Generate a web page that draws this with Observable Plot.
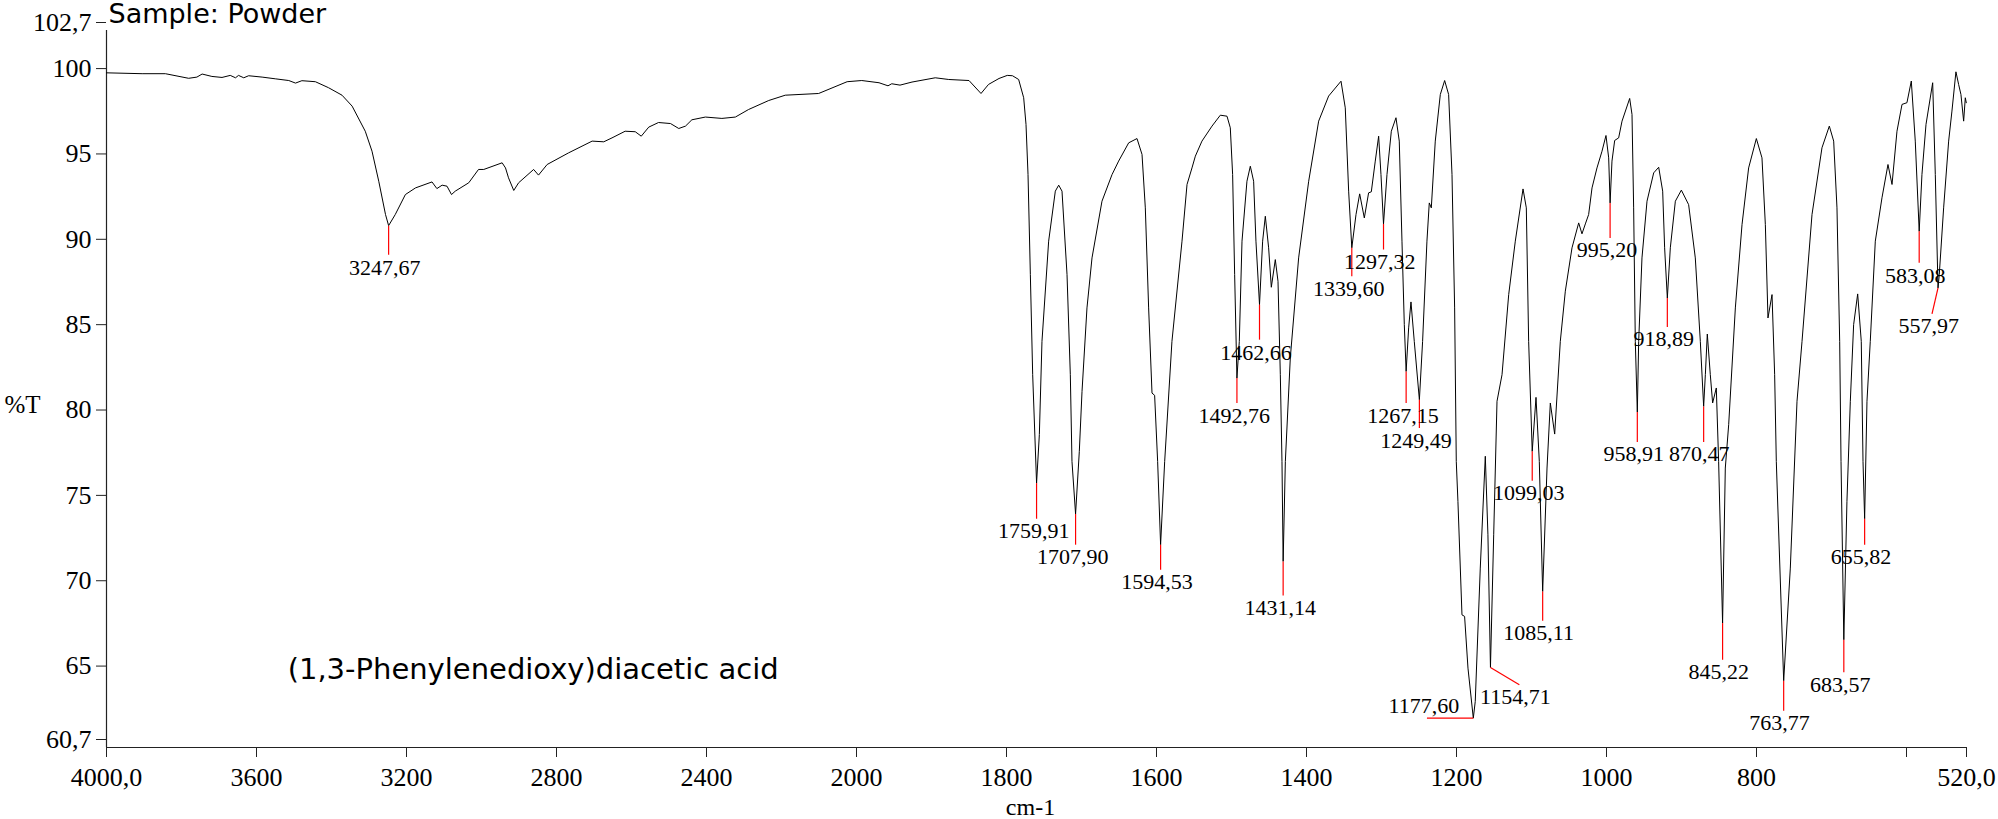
<!DOCTYPE html>
<html>
<head>
<meta charset="utf-8">
<script src="https://cdn.jsdelivr.net/npm/d3@7"></script>
<script src="https://cdn.jsdelivr.net/npm/@observablehq/plot@0.6"></script>
<style>
  html, body { margin: 0; padding: 0; background: #fff; }
  #chart svg { display: block; }
  #chart svg g[aria-label="x-axis tick label"] text,
  #chart svg g[aria-label="y-axis tick label"] text { font-family: "Liberation Serif", "Times New Roman", serif; }
</style>
</head>
<body>
<div id="chart"></div>
<script>
// ---- Data ----
const wavenumber = [
  4000, 3905, 3843, 3781, 3759, 3745, 3719, 3692, 3670, 3656, 3648, 3634, 3621, 3585, 3550, 3514, 3496, 3479, 3443, 3408,
  3372, 3345, 3310, 3292, 3274, 3256, 3247.67, 3230, 3203, 3176, 3132, 3119, 3105, 3092, 3080, 3070, 3034, 3008, 2994, 2945,
  2936, 2928, 2914, 2901, 2861, 2848, 2825, 2768, 2705, 2674, 2652, 2617, 2590, 2574, 2554, 2528, 2496, 2474, 2456, 2439,
  2403, 2359, 2323, 2288, 2234, 2190, 2101, 2025, 1993, 1970, 1958, 1953, 1942, 1926, 1895, 1877, 1850, 1834, 1824, 1810,
  1799, 1792, 1783.8, 1777.1, 1774, 1771.3, 1768.2, 1765.1, 1759.91, 1756.2, 1752.7, 1743.8, 1734.9, 1730.4, 1726, 1719.3, 1714.9, 1712.7, 1707.9, 1702.9,
  1699.3, 1692.7, 1686, 1672.7, 1659.3, 1650.5, 1637.1, 1626, 1619.3, 1614.9, 1610.5, 1606, 1602.5, 1598.5, 1594.53, 1589.1, 1579.4, 1566, 1559.3, 1552.7,
  1548.2, 1539.4, 1526, 1514.9, 1506, 1501.6, 1498.5, 1495.8, 1492.76, 1489.6, 1486, 1479.4, 1474.9, 1470.5, 1467.4, 1462.66, 1458.5, 1454.9, 1450.5, 1446.9,
  1441.6, 1438, 1434.9, 1432.7, 1431.14, 1428.2, 1421.6, 1410.5, 1397.1, 1383.8, 1370.5, 1354, 1348.3, 1343.8, 1339.6, 1334, 1329.1, 1322.9, 1317.2, 1313.6,
  1308.3, 1303.8, 1300.7, 1297.32, 1292.7, 1286.9, 1280.7, 1276.3, 1272.7, 1269.6, 1267.15, 1263.8, 1260.7, 1256.3, 1249.49, 1245.2, 1239.4, 1236.3, 1233.6, 1228.3,
  1221.6, 1215.8, 1210.5, 1206, 1202.5, 1200.3, 1198.1, 1192.7, 1189.2, 1184.7, 1177.6, 1175, 1168.3, 1161.6, 1158.1, 1154.71, 1150.4, 1146, 1139.3, 1130.4,
  1121.6, 1111.3, 1106.9, 1103.8, 1099.03, 1094, 1089.6, 1085.11, 1079.3, 1074.9, 1069.1, 1061.6, 1054.9, 1046, 1037.1, 1032.7, 1028.2, 1023.8, 1019.3, 1012.7,
  1006, 1000.7, 997.1, 995.2, 992.7, 989.1, 983.8, 979.3, 969.1, 966, 963.8, 961.6, 958.91, 957.1, 952.7, 946, 937.1, 930.4, 925.1, 922.5,
  918.89, 914.9, 908.2, 900.2, 890.5, 881.6, 874.9, 870.47, 868.2, 865.6, 861.6, 858.5, 853.6, 850.5, 845.22, 841.6, 837.1, 828.2, 819.3, 810.5,
  800.2, 792.7, 788.2, 784.7, 779.3, 775.8, 773.6, 763.77, 754.9, 746, 739.3, 726, 712.7, 702.9, 697.1, 692.7, 689.1, 687.3, 683.57, 679.4,
  674.9, 670.5, 665.1, 660.3, 658, 655.82, 652.7, 648.3, 641.6, 632.7, 624.7, 619.3, 612.7, 606, 599.4, 593.6, 588.3, 583.08, 579.4, 574,
  565.1, 561.6, 557.97, 556.3, 550.5, 543.8, 539.4, 534.1, 530.5, 527.4, 523.8, 521.6, 520.3
];
const transmittance = [
  100.22, 100.17, 100.17, 99.90, 99.97, 100.15, 100.01, 99.95, 100.07, 99.93, 100.07, 99.93, 100.05, 99.97, 99.87, 99.77, 99.62, 99.76, 99.70, 99.35,
  98.91, 98.27, 96.80, 95.63, 93.87, 91.92, 91.27, 91.92, 93.09, 93.48, 93.83, 93.44, 93.64, 93.58, 93.09, 93.29, 93.78, 94.56, 94.56, 94.95,
  94.65, 94.07, 93.33, 93.78, 94.56, 94.23, 94.85, 95.53, 96.22, 96.18, 96.41, 96.80, 96.77, 96.51, 97.04, 97.31, 97.25, 96.96, 97.10, 97.47,
  97.63, 97.55, 97.63, 98.07, 98.60, 98.91, 99.01, 99.70, 99.77, 99.64, 99.46, 99.58, 99.50, 99.68, 99.93, 99.83, 99.77, 99.01, 99.54, 99.89,
  100.07, 100.05, 99.83, 98.76, 97.2, 94.26, 88.4, 82.54, 76.19, 79.03, 84.49, 90.36, 93.29, 93.64, 93.29, 88.4, 82.54, 77.46, 74.38, 78.05,
  81.56, 86.45, 89.38, 92.7, 94.26, 95.05, 96.12, 96.37, 95.44, 92.31, 86.45, 81.46, 81.33, 77.46, 72.58, 77.46, 84.49, 90.36, 93.68, 94.65,
  95.34, 96.22, 97.1, 97.74, 97.68, 97.0, 94.26, 88.4, 82.34, 84.49, 90.36, 93.87, 94.75, 93.87, 90.36, 86.64, 90.36, 91.82, 89.97, 87.66,
  89.28, 88.01, 82.54, 77.46, 71.6, 77.46, 83.52, 89.38, 93.87, 97.39, 98.86, 99.73, 98.17, 93.29, 89.97, 91.92, 93.13, 91.72, 93.19, 93.25,
  95.05, 96.51, 94.26, 91.37, 94.26, 96.8, 97.59, 96.22, 90.36, 85.47, 82.73, 85.28, 86.8, 84.49, 81.07, 84.49, 90.36, 92.6, 92.31, 96.22,
  98.95, 99.77, 98.95, 94.26, 86.45, 77.46, 75.12, 68.47, 68.38, 65.35, 62.42, 63.4, 71.21, 77.76, 73.16, 65.39, 73.16, 80.98, 82.54, 87.23,
  90.36, 93.42, 92.31, 84.49, 78.05, 81.21, 77.46, 69.84, 77.07, 80.88, 79.06, 84.49, 87.43, 89.97, 91.43, 90.79, 91.37, 91.92, 93.48, 94.65,
  95.63, 96.55, 95.24, 92.6, 95.05, 96.26, 96.41, 97.39, 98.72, 97.78, 92.31, 84.49, 80.35, 84.49, 89.38, 92.7, 94.36, 94.69, 93.29, 89.97,
  87.03, 89.97, 92.7, 93.35, 92.5, 89.38, 84.49, 80.68, 82.54, 84.92, 82.54, 80.88, 81.76, 77.46, 67.99, 77.07, 79.61, 86.45, 91.33, 94.65,
  96.37, 95.24, 91.33, 85.86, 87.23, 82.54, 77.46, 64.61, 71.21, 80.98, 84.49, 91.92, 95.83, 97.1, 96.22, 92.31, 84.49, 77.46, 67.01, 75.12,
  80.98, 85.47, 87.27, 84.49, 77.46, 74.1, 80.98, 84.49, 90.36, 92.9, 94.85, 93.68, 96.8, 98.37, 98.47, 99.74, 96.22, 90.94, 94.26, 97.2,
  99.64, 94.26, 87.62, 88.4, 92.31, 96.22, 97.98, 100.28, 99.54, 98.95, 97.39, 98.76, 98.47
];

// Peak picks: position of the minimum, end of the red leader, centre of the label (all in data units)
const peakWn        = [3247.67, 1759.91, 1707.90, 1594.53, 1492.76, 1462.66, 1431.14, 1339.60, 1297.32, 1267.15, 1249.49, 1177.60, 1154.71, 1099.03, 1085.11, 995.20, 958.91, 918.89, 870.47, 845.22, 763.77, 683.57, 655.82, 583.08, 557.97];
const peakT         = [91.27, 76.19, 74.38, 72.58, 82.34, 86.64, 71.6, 89.97, 91.37, 82.73, 81.07, 62.42, 65.39, 78.05, 69.84, 92.6, 80.35, 87.03, 80.68, 67.99, 64.61, 67.01, 74.1, 90.94, 87.62];
const leaderEndWn   = [3247.67, 1759.91, 1707.90, 1594.53, 1492.76, 1462.66, 1431.14, 1339.60, 1297.32, 1267.15, 1249.49, 1239.4, 1116.2, 1099.03, 1085.11, 995.20, 958.91, 918.89, 870.47, 845.22, 763.77, 683.57, 655.82, 583.08, 566.0];
const leaderEndT    = [89.57, 74.1, 72.58, 71.11, 80.88, 84.59, 69.61, 88.3, 89.87, 80.88, 79.41, 62.42, 64.37, 76.33, 68.12, 90.55, 78.6, 85.33, 78.6, 65.84, 62.85, 65.11, 72.58, 89.09, 86.1];
const labelWn       = [3258.2, 1763.8, 1711.8, 1599.4, 1496.2, 1467.4, 1434.9, 1343.8, 1302.5, 1271.4, 1254.0, 1243.4, 1121.6, 1103.8, 1090.4, 999.3, 963.8, 923.8, 876.2, 850.5, 769.2, 688.3, 660.7, 588.3, 570.5];
const labelT        = [88.8, 73.36, 71.84, 70.37, 80.1, 83.81, 68.87, 87.58, 89.14, 80.1, 78.63, 63.16, 63.69, 75.61, 67.4, 89.87, 77.89, 84.63, 77.89, 65.11, 62.12, 64.37, 71.85, 88.34, 85.37];

// Axis ticks and labels
const xTicks      = [4000, 3600, 3200, 2800, 2400, 2000, 1800, 1600, 1400, 1200, 1000, 800, 600, 520];
const xTickLabels = ["4000,0", "3600", "3200", "2800", "2400", "2000", "1800", "1600", "1400", "1200", "1000", "800", "", "520,0"];
const yTicks      = [60.7, 65, 70, 75, 80, 85, 90, 95, 100, 102.7];
const yTickLabels = ["60,7", "65", "70", "75", "80", "85", "90", "95", "100", "102,7"];
const xBreaks     = [4000, 2000, 520];   // the wavenumber axis changes scale at 2000 cm-1

const sampleTitle  = "Sample: Powder";
const compoundName = "(1,3-Phenylenedioxy)diacetic acid";
const compoundPos  = {wn: 3517, t: 64.74};
const xLabel = "cm-1";
const yLabel = "%T";

// ---- Build tables ----
const spectrum = wavenumber.map((w, i) => ({wn: w, t: transmittance[i]}));
const peaks = peakWn.map((w, i) => ({
  wn: w, t: peakT[i],
  ex: leaderEndWn[i], et: leaderEndT[i],
  tx: labelWn[i], ty: labelT[i],
  label: w.toFixed(2).replace(".", ",")
}));
const xFmt = v => xTickLabels[xTicks.indexOf(v)];
const yFmt = v => yTickLabels[yTicks.indexOf(v)];

// ---- Layout ----
const W = 1998, H = 819;
const mLeft = 106, mRight = 32, mTop = 30, mBottom = 72;
const plotW = W - mLeft - mRight;
// 4000->2000 uses 5 tick intervals, 2000->520 uses 7.4 equal intervals
const breakPx = mLeft + plotW * (5 / 12.4);

const serif = "'Liberation Serif', 'Times New Roman', serif";
const comic = "'Comic Sans MS', 'DejaVu Sans', sans-serif";

const chart = Plot.plot({
  width: W,
  height: H,
  marginLeft: mLeft,
  marginRight: mRight,
  marginTop: mTop,
  marginBottom: mBottom,
  style: {fontFamily: serif, background: "#fff", color: "#000", overflow: "visible"},
  x: {type: "linear", domain: xBreaks, range: [mLeft, breakPx, W - mRight]},
  y: {type: "linear", domain: [60.7, 102.7]},
  marks: [
    Plot.ruleX([4000], {stroke: "#222", strokeWidth: 1.2}),
    Plot.ruleY([60.7], {stroke: "#222", strokeWidth: 1.2}),
    Plot.axisY(yTicks, {
      tickFormat: yFmt, tickSize: 10, tickPadding: 5, fontSize: 26, dy: -8,
      fontFamily: serif, label: null, stroke: "#222"
    }),
    Plot.axisX(xTicks, {
      tickFormat: xFmt, tickSize: 10, tickPadding: 10, fontSize: 26,
      fontFamily: serif, label: null, stroke: "#222"
    }),
    Plot.line(spectrum, {x: "wn", y: "t", stroke: "#000", strokeWidth: 1}),
    Plot.link(peaks, {x1: "wn", y1: "t", x2: "ex", y2: "et", stroke: "#ff0000", strokeWidth: 1.2}),
    Plot.text(peaks, {x: "tx", y: "ty", text: "label", fontSize: 22, lineAnchor: "middle",
      fontFamily: serif, fill: "#000"}),
    Plot.text([compoundName], {x: () => compoundPos.wn, y: () => compoundPos.t, text: d => d,
      textAnchor: "start", lineAnchor: "bottom", fontSize: 29, fontFamily: comic, fill: "#000"}),
    Plot.text([sampleTitle], {frameAnchor: "top-left", text: d => d, textAnchor: "start", lineAnchor: "bottom",
      dx: 2, dy: -8, fontSize: 27, fontFamily: comic, fill: "#000"}),
    Plot.text([yLabel], {frameAnchor: "left", text: d => d, textAnchor: "start", lineAnchor: "bottom",
      dx: -102, dy: 24, fontSize: 25, fontFamily: serif, fill: "#000"}),
    Plot.text([xLabel], {frameAnchor: "bottom", text: d => d, textAnchor: "middle", lineAnchor: "bottom",
      dx: -6, dy: 67, fontSize: 24, fontFamily: serif, fill: "#000"})
  ]
});

document.getElementById("chart").append(chart);
</script>
</body>
</html>
